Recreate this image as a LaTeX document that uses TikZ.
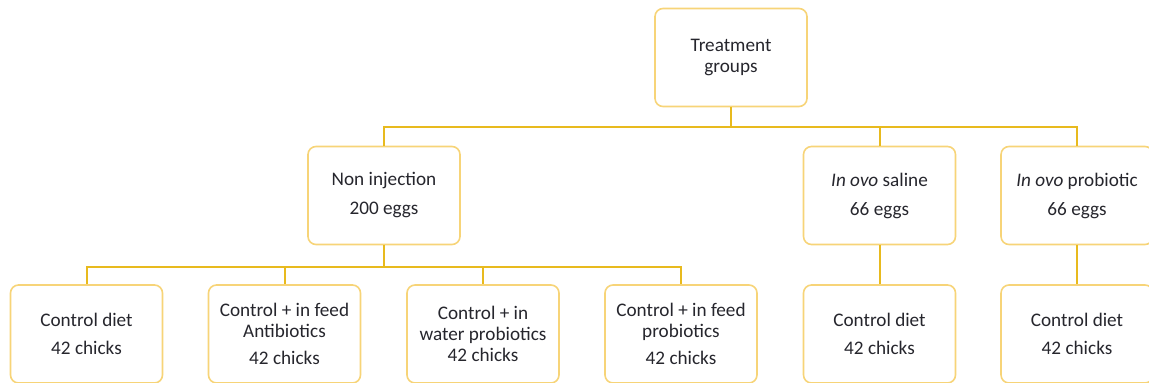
\documentclass[tikz,border=0pt]{standalone}
\usepackage{fontspec}
\setmainfont{Carlito}
\definecolor{boxline}{RGB}{247,212,120}
\definecolor{connline}{RGB}{232,186,30}
\definecolor{txt}{RGB}{38,38,45}
\begin{document}
\begin{tikzpicture}[x=0.5pt,y=-0.5pt,
        grp/.style={draw=boxline,line width=0.8pt,rounded corners=4pt,fill=white,
            minimum width=76pt,minimum height=49pt,inner sep=0pt,align=center,
            text=txt,font=\fontsize{9.6}{10.5}\selectfont},
        conn/.style={draw=connline,line width=1pt}]
        \useasboundingbox (0,0) rectangle (1149,383);
        % top
        \node[grp] (tg) at (731,57.5) {Treatment\\groups};
        % injection groups
        \node[grp] (noninj) at (384,195.5) {Non injection\\[4pt]200 eggs};
        \node[grp] (saline) at (879.5,195.5) {\textit{In ovo} saline\\[4pt]66 eggs};
        \node[grp] (probio) at (1077,195.5) {\textit{In ovo} probiotic\\[4pt]66 eggs};
        % diets
        \node[grp] (cd1) at (86.5,334) {Control diet\\[3.5pt]42 chicks};
        \node[grp] (ab) at (284.5,334) {Control + in feed\\Antibiotics\\[3pt]42 chicks};
        \node[grp] (wp) at (483,334) {Control + in\\water probiotics\\42 chicks};
        \node[grp] (fp) at (681,334) {Control + in feed\\probiotics\\[3pt]42 chicks};
        \node[grp] (cd2) at (879.5,334) {Control diet\\[3.5pt]42 chicks};
        \node[grp] (cd3) at (1077,334) {Control diet\\[3.5pt]42 chicks};
        % connectors
        \foreach \n in {noninj,saline,probio}
        \draw[conn] (tg.south) -- ++(0,20) -| (\n.north);
        \foreach \n in {cd1,ab,wp,fp}
        \draw[conn] (noninj.south) -- ++(0,22) -| (\n.north);
        \draw[conn] (saline) -- (cd2);
        \draw[conn] (probio) -- (cd3);
    \end{tikzpicture}
\end{document}
